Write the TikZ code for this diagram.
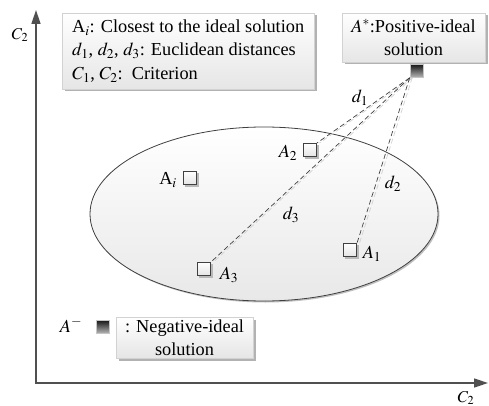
\documentclass[tikz,border=0pt]{standalone}
\usepackage{mathptmx}
\usepackage{fontspec}
\setmainfont{Liberation Serif}
\usetikzlibrary{shadows,arrows.meta,shapes.geometric}
\definecolor{axisgray}{HTML}{505050}
\definecolor{linegray}{HTML}{404040}
\begin{document}
\begin{tikzpicture}[x=1pt,y=-1pt,
  every node/.style={font=\fontsize{18.3}{23.5}\selectfont},
  labelbox/.style={draw=gray!35, top color=white, bottom color=gray!20, inner sep=0pt,
    drop shadow={shadow xshift=2.5pt, shadow yshift=-2.5pt, fill=gray!60, opacity=1}},
  ptbox/.style={rectangle, draw=linegray, line width=0.6pt, minimum size=13.5pt, inner sep=0pt,
    top color=white, bottom color=gray!22,
    drop shadow={shadow xshift=1.8pt, shadow yshift=-1.8pt, fill=gray!55, opacity=1}},
  darkbox/.style={rectangle, draw=gray!45, line width=0.6pt, minimum size=13pt, inner sep=0pt,
    top color=black!90, bottom color=gray!55},
  dist/.style={draw=linegray, line width=0.7pt, dash pattern=on 5pt off 3pt},
  distshadow/.style={draw=gray!35, line width=0.7pt, dash pattern=on 5pt off 3pt},
  axis/.style={draw=axisgray, line width=1.6pt},
  lbl/.style={inner sep=1pt}
]
\useasboundingbox (0,0) rectangle (489,406);

% axes
\coordinate (ytip) at (36,10);
\coordinate (xtip) at (488,383);
\draw[axis, {Triangle[length=14pt,width=9pt]}-{Triangle[length=14pt,width=9pt]}] (ytip) |- (xtip);
\node[lbl, font=\fontsize{16.5}{20}\selectfont] (ylab) at (20,35) {$C_2$};
\node[lbl, font=\fontsize{16.5}{20}\selectfont] (xlab) at (466,398) {$C_2$};

% region
\node[ellipse, draw=linegray, line width=0.8pt, minimum width=348pt, minimum height=174pt, inner sep=0pt,
  top color=white, bottom color=gray!18,
  drop shadow={shadow xshift=1.5pt, shadow yshift=-1.5pt, fill=gray!50, opacity=1}] (region) at (264,214) {};

% legend boxes
\node[labelbox, anchor=west, minimum height=76pt, align=left, inner xsep=10pt] (legend) at (62,51)
  {A$_i$: Closest to the ideal solution\\ $d_1$, $d_2$, $d_3$: Euclidean distances\\ $C_1$, $C_2$:\ \ Criterion};
\node[labelbox, minimum width=143pt, minimum height=49pt, align=center] (pos) at (413.5,37.5)
  {$A^{*}$:Positive-ideal\\solution};
\node[labelbox, minimum width=137pt, minimum height=41pt, align=center] (neg) at (184.5,337.5)
  {: Negative-ideal\\solution};

% points
\node[darkbox] (Astar) at (416.5,71) {};
\node[darkbox] (Aminus) at (103,327) {};
\node[ptbox] (A2) at (310,150) {};
\node[ptbox] (Ai) at (190,178) {};
\node[ptbox] (A3) at (204,269) {};
\node[ptbox] (A1) at (350,250) {};

% distances
\foreach \t in {A2,A3,A1}{
  \draw[distshadow] ([xshift=2.5pt]Astar.south west) -- ([xshift=2.5pt]\t.north east);
  \draw[dist] (Astar.south west) -- (\t.north east);
}

% labels
\node[lbl] (A2l) at (288,153) {$A_2$};
\node[lbl] (Ail) at (168,180) {A$_i$};
\node[lbl] (A3l) at (229,275) {$A_3$};
\node[lbl] (A1l) at (372,254) {$A_1$};
\node[lbl] (d1) at (360,98) {$d_1$};
\node[lbl] (d2) at (393,184) {$d_2$};
\node[lbl] (d3) at (291,215) {$d_3$};
\node[lbl] (Aml) at (71,325) {$A^{-}$};
\end{tikzpicture}
\end{document}
